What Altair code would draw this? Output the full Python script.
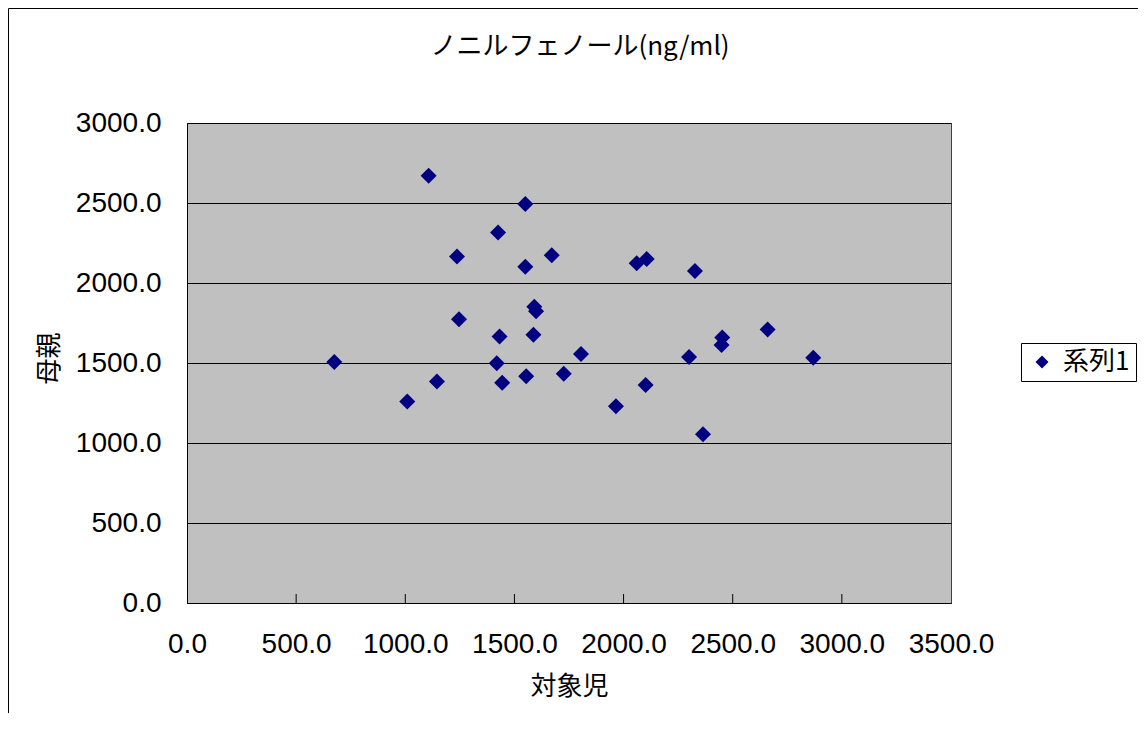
import altair as alt
import pandas as pd

# 対象児 (x) and 母親 (y) values, ng/ml
child = [1107, 1550, 1425, 1237, 1550, 1671, 2060, 2106, 2327, 1591,
         1599, 1246, 1432, 1587, 675, 1419, 1805, 1145, 1444, 1554,
         1726, 1009, 1965, 2101, 2300, 2364, 2452, 2449, 2660, 2869]
mother = [2671, 2494, 2315, 2165, 2102, 2173, 2123, 2150, 2075, 1852,
          1823, 1773, 1665, 1677, 1506, 1498, 1556, 1385, 1377, 1417,
          1433, 1260, 1229, 1362, 1537, 1054, 1660, 1612, 1710, 1533]
series_name = "系列1"
x_ticks = [0, 500, 1000, 1500, 2000, 2500, 3000, 3500]
y_ticks = [0, 500, 1000, 1500, 2000, 2500, 3000]

title_text = "ノニルフェノール(ng/ml)"
x_title = "対象児"
y_title = "母親"

df = pd.DataFrame({"cx": child, "my": mother, "s": [series_name] * len(child)})
df_ticks = pd.DataFrame({"cx": x_ticks[1:-1]})

num_font = "Liberation Sans"
jp_font = "Noto Sans CJK JP"

W, H = 764, 480

xscale = alt.Scale(domain=[0, 3500], nice=False, zero=True)
yscale = alt.Scale(domain=[0, 3000], nice=False, zero=True)

x_axis = alt.Axis(values=x_ticks, format=".1f", grid=False, ticks=False,
                  domainColor="black", labelFont=num_font, labelFontSize=28,
                  labelColor="black", labelPadding=27, labelFlush=False,
                  labelOverlap=False,
                  title=x_title, titleFont=jp_font, titleFontSize=26,
                  titleFontWeight="normal", titleColor="black",
                  titleX=W / 2, titleY=83, titleBaseline="middle",
                  titleAlign="center")

frame = alt.Chart(pd.DataFrame({"a": [0]})).mark_rect(
    fillOpacity=0, stroke="black", strokeWidth=1
).encode(
    x=alt.value(-178.5), x2=alt.value(1200),
    y=alt.value(-114.5), y2=alt.value(800)
)

points = alt.Chart(df).mark_point(
    shape="diamond", filled=True, size=256, opacity=1, strokeWidth=0
).encode(
    x=alt.X("cx:Q", scale=xscale, axis=x_axis),
    y=alt.Y("my:Q", scale=yscale,
            axis=alt.Axis(values=y_ticks, format=".1f", grid=True, gridColor="black",
                          gridOpacity=1, gridWidth=1, ticks=False,
                          domainColor="black", labelFont=num_font, labelFontSize=28,
                          labelColor="black", labelPadding=26,
                          labelOverlap=False,
                          title=y_title, titleFont=jp_font, titleFontSize=26,
                          titleFontWeight="normal", titleColor="black",
                          titleX=-138, titleY=H / 2 - 5, titleAngle=-90,
                          titleBaseline="middle", titleAlign="center")),
    color=alt.Color("s:N", scale=alt.Scale(range=["#000080"]),
                    legend=alt.Legend(title=None, orient="none", legendX=834, legendY=220,
                                      symbolType="diamond", symbolSize=170,
                                      symbolStrokeWidth=0,
                                      labelFont=jp_font, labelFontSize=26,
                                      labelColor="black", labelOffset=8,
                                      strokeColor="black", fillColor="white",
                                      padding=6, symbolOffset=2))
)

ticks = alt.Chart(df_ticks).mark_rule(color="black", strokeWidth=1).encode(
    x=alt.X("cx:Q", scale=xscale, axis=x_axis),
    y=alt.value(H), y2=alt.value(H - 9)
)

chart = alt.layer(frame, points, ticks).properties(
    width=W, height=H,
    title=alt.TitleParams(title_text, font=jp_font, fontSize=26, fontWeight="normal",
                          color="black", anchor="middle", dx=11, dy=56),
    autosize=alt.AutoSizeParams(type="none"),
    padding={"left": 179, "top": 115, "right": 187, "bottom": 110}
).configure(
    background="white"
).configure_view(
    fill="#C0C0C0", stroke="#404040", strokeWidth=1
)

chart.save("out.html", embed_options={"renderer": "svg", "actions": False})
